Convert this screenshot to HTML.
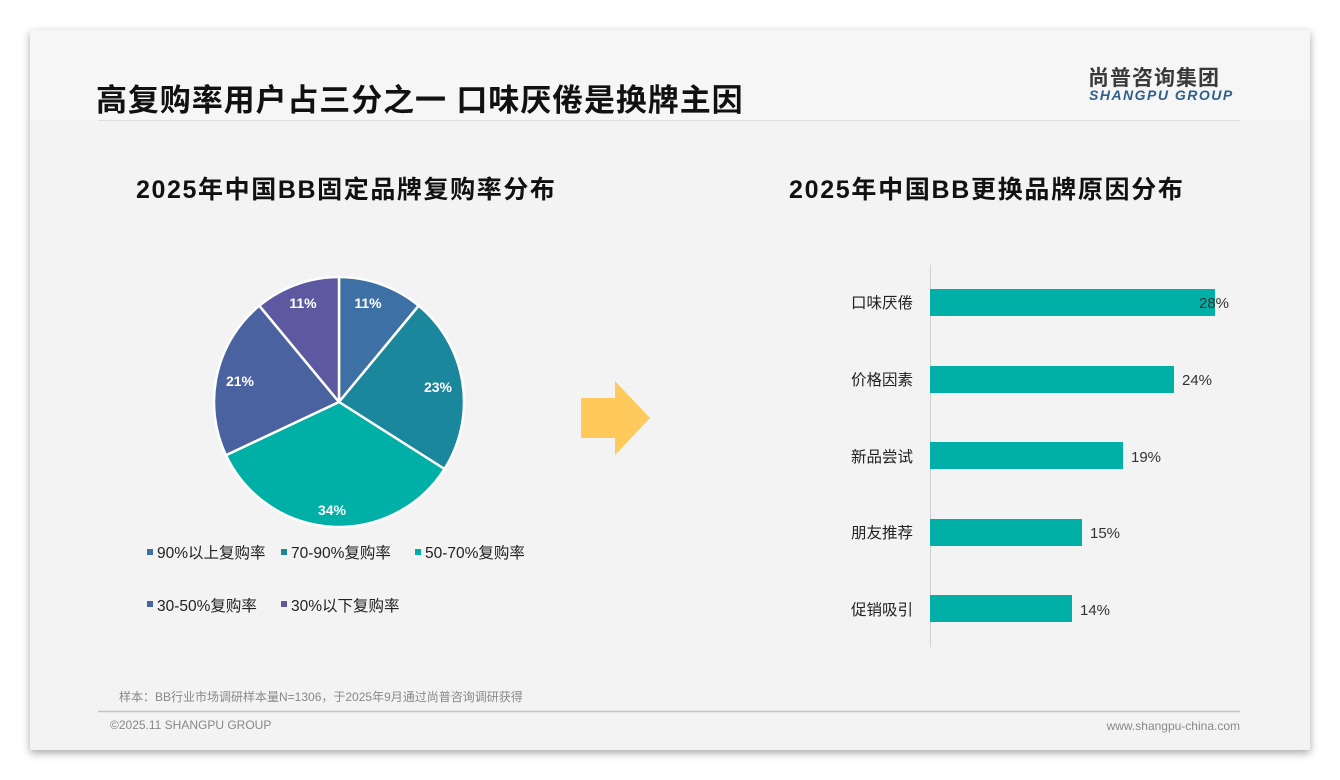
<!DOCTYPE html>
<html><head><meta charset="utf-8"><style>
body{margin:0;width:1340px;height:780px;background:#fff;position:relative;overflow:hidden;font-family:"Liberation Sans","Noto Sans CJK SC",sans-serif;}
.card{position:absolute;left:30px;top:30px;width:1280px;height:720px;background:#f3f3f3;box-shadow:0 3px 8px rgba(0,0,0,.35);}
.abs{position:absolute;white-space:nowrap;}
</style></head><body>
<div class="card"></div>
<div class="abs" style="left:30px;top:30px;width:1280px;height:90px;background:#f6f6f6"></div>
<div class="abs" style="left:96px;top:75px;font-size:31px;font-weight:bold;color:#111;letter-spacing:0.9px">高复购率用户占三分之一 口味厌倦是换牌主因</div>
<div class="abs" style="left:1088px;top:62px;font-size:21px;font-weight:bold;color:#3a3a3a;letter-spacing:1px">尚普咨询集团</div>
<div class="abs" style="left:1089px;top:87px;font-size:14px;font-weight:bold;font-style:italic;color:#2d5f8a;letter-spacing:1.5px">SHANGPU GROUP</div>
<div class="abs" style="left:98px;top:120px;width:1142px;height:1px;background:#ddd"></div>
<div class="abs" style="left:136px;top:170px;font-size:25px;font-weight:bold;color:#111;letter-spacing:1.6px">2025年中国BB固定品牌复购率分布</div>
<div class="abs" style="left:789px;top:170px;font-size:25px;font-weight:bold;color:#111;letter-spacing:1.7px">2025年中国BB更换品牌原因分布</div>
<svg class="abs" style="left:0;top:0" width="1340" height="780">
<g stroke="#fff" stroke-width="2.5" stroke-linejoin="round">
<path d="M339,402 L339,277 A125,125 0 0 1 418.7,305.7 Z" fill="#3d71a6"/>
<path d="M339,402 L418.7,305.7 A125,125 0 0 1 444.5,469 Z" fill="#1b879d"/>
<path d="M339,402 L444.5,469 A125,125 0 0 1 225.9,455.2 Z" fill="#00b0a6"/>
<path d="M339,402 L225.9,455.2 A125,125 0 0 1 259.3,305.7 Z" fill="#4b62a1"/>
<path d="M339,402 L259.3,305.7 A125,125 0 0 1 339,277 Z" fill="#5d59a0"/>
</g>
<g fill="#fff" font-size="14" font-weight="bold" text-anchor="middle" font-family="Liberation Sans,sans-serif">
<text x="368" y="308">11%</text><text x="438" y="392">23%</text><text x="332" y="515">34%</text><text x="240" y="386">21%</text><text x="303" y="308">11%</text>
</g>
<polygon points="581,398 615,398 615,381 650,418 615,455 615,438 581,438" fill="#ffc95c"/>
<line x1="930.5" y1="265" x2="930.5" y2="647" stroke="#d0d0d0"/>
<g fill="#00b0a6">
<rect x="930" y="289" width="285" height="27"/><rect x="930" y="366" width="244" height="27"/><rect x="930" y="442" width="193" height="27"/><rect x="930" y="519" width="152" height="27"/><rect x="930" y="595" width="142" height="27"/>
</g>
<g font-size="15" fill="#333" font-family="Liberation Sans,sans-serif">
<text x="1199" y="308">28%</text><text x="1182" y="385">24%</text><text x="1131" y="462">19%</text><text x="1090" y="538">15%</text><text x="1080" y="615">14%</text>
</g>
<g font-size="15.5" fill="#222" text-anchor="end" font-family="Liberation Sans,Noto Sans CJK SC,sans-serif">
<text x="913" y="308">口味厌倦</text><text x="913" y="385">价格因素</text><text x="913" y="462">新品尝试</text><text x="913" y="538">朋友推荐</text><text x="913" y="615">促销吸引</text>
</g>
<g font-size="15.5" fill="#222" font-family="Liberation Sans,Noto Sans CJK SC,sans-serif">
<rect x="147" y="549" width="6" height="6" fill="#3d71a6"/><text x="157" y="558">90%以上复购率</text>
<rect x="281" y="549" width="6" height="6" fill="#1b879d"/><text x="291" y="558">70-90%复购率</text>
<rect x="415" y="549" width="6" height="6" fill="#00b0a6"/><text x="425" y="558">50-70%复购率</text>
<rect x="147" y="601" width="6" height="6" fill="#4b62a1"/><text x="157" y="611">30-50%复购率</text>
<rect x="281" y="601" width="6" height="6" fill="#5d59a0"/><text x="291" y="611">30%以下复购率</text>
</g>
<line x1="98" y1="711.5" x2="1240" y2="711.5" stroke="#b8c6d4" stroke-width="1.5"/>
<text x="119" y="701" font-size="12" fill="#888" font-family="Liberation Sans,Noto Sans CJK SC,sans-serif">样本：BB行业市场调研样本量N=1306，于2025年9月通过尚普咨询调研获得</text>
<text x="110" y="729" font-size="12" fill="#888" font-family="Liberation Sans,sans-serif">©2025.11 SHANGPU GROUP</text>
<text x="1240" y="730" font-size="12" fill="#888" text-anchor="end" font-family="Liberation Sans,sans-serif">www.shangpu-china.com</text>
</svg>
</body></html>
